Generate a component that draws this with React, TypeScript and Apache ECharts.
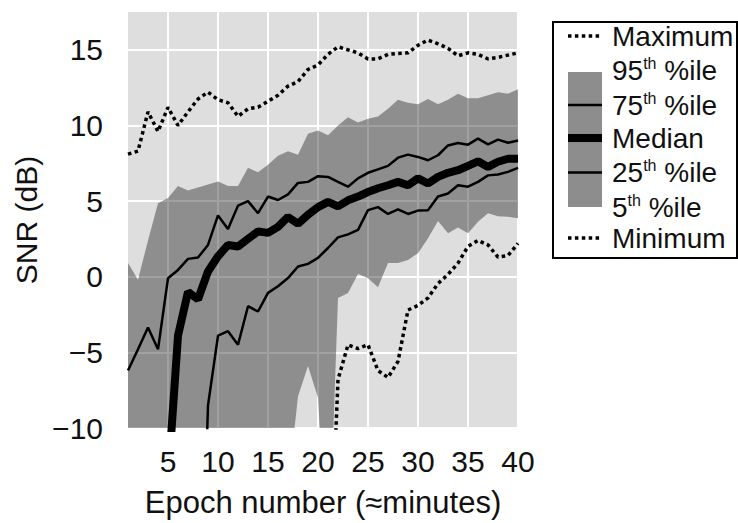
import React, { useEffect, useRef } from "react";
import * as echarts from "echarts";

const epochs = [1, 2, 3, 4, 5, 6, 7, 8, 9, 10, 11, 12, 13, 14, 15, 16, 17, 18, 19, 20, 21, 22, 23, 24, 25, 26, 27, 28, 29, 30, 31, 32, 33, 34, 35, 36, 37, 38, 39, 40];

const maxV = [8.1, 8.3, 10.9, 9.6, 11.2, 10.0, 10.9, 11.75, 12.2, 11.7, 11.5, 10.6, 11.1, 11.2, 11.6, 12.0, 12.6, 12.9, 13.7, 14.0, 14.7, 15.2, 15.0, 14.8, 14.4, 14.4, 14.7, 14.76, 14.8, 15.3, 15.65, 15.4, 15.1, 14.6, 14.8, 14.7, 14.4, 14.5, 14.65, 14.8];

const p95 = [0.9, -0.2, 2.4, 4.85, 5.2, 6.0, 5.7, 5.9, 6.1, 6.3, 6.0, 6.0, 7.2, 6.9, 7.4, 8.0, 8.3, 8.07, 9.45, 9.67, 9.35, 10.0, 10.55, 10.2, 10.45, 10.6, 11.1, 11.7, 11.5, 11.4, 11.75, 11.4, 11.7, 12.1, 11.8, 11.8, 12.0, 12.2, 12.1, 12.4];

const p75 = [-6.2, -4.8, -3.35, -4.8, -0.1, 0.45, 1.18, 1.27, 2.1, 4.05, 3.15, 4.7, 5.0, 4.2, 5.3, 5.07, 5.44, 6.2, 6.27, 6.65, 6.6, 6.27, 5.95, 6.5, 6.87, 7.1, 7.33, 7.87, 8.07, 7.92, 7.7, 8.03, 8.68, 8.84, 8.73, 9.13, 8.75, 9.06, 8.86, 9.0];

const median = [null, null, null, null, -13.5, -3.9, -1.0, -1.5, 0.35, 1.35, 2.1, 2.0, 2.5, 3.0, 2.9, 3.3, 3.95, 3.5, 4.1, 4.6, 4.95, 4.65, 5.05, 5.3, 5.6, 5.85, 6.05, 6.27, 6.05, 6.5, 6.16, 6.6, 6.87, 7.04, 7.33, 7.63, 7.26, 7.6, 7.8, 7.8];

const p25 = [null, null, null, null, null, null, null, -30, -8.5, -3.9, -3.6, -4.5, -1.95, -2.3, -1.07, -0.63, -0.09, 0.68, 0.85, 1.25, 1.9, 2.6, 2.8, 3.1, 4.4, 4.6, 4.15, 4.45, 4.15, 4.37, 4.4, 5.3, 5.5, 6.05, 5.95, 6.27, 6.7, 6.76, 6.93, 7.2];

const p5 = [null, null, null, null, null, null, null, null, null, null, null, null, null, null, null, null, -14, -7.9, -5.9, -8.0, -20, -1.4, -1.07, 0.18, -0.1, -0.7, 0.9, 0.9, 1.1, 1.56, 2.55, 3.68, 2.87, 3.25, 2.87, 3.64, 4.2, 4.0, 3.97, 3.86];

const minV = [null, null, null, null, null, null, null, null, null, null, null, null, null, null, null, null, null, null, null, null, -23, -6.8, -4.5, -4.75, -4.5, -6.2, -6.66, -5.6, -2.2, -1.9, -1.4, -0.45, 0.15, 0.9, 2.0, 2.4, 2.1, 1.3, 1.4, 2.2];

const xTicks = [5, 10, 15, 20, 25, 30, 35, 40];
const yTicks = [-10, -5, 0, 5, 10, 15];
const Y_MIN = -10;
const Y_MAX = 17.5;

const FONT = "'Liberation Sans', Arial, Helvetica, sans-serif";
const BAND_FILL = "rgba(30,30,30,0.42)";

const pairs = (arr: (number | null)[]) => epochs.map((e, i) => [e, arr[i]]);

export default function App() {
  const ref = useRef<HTMLDivElement>(null);
  useEffect(() => {
    if (!ref.current) return;
    const chart = echarts.init(ref.current, undefined, { renderer: "svg" });
    const lower = p5.map((v) => (v == null ? Y_MIN - 1 : v));
    const lineBase = { type: "line", showSymbol: false, symbol: "none", silent: true, z: 4, clip: true };
    const option: any = {
      animation: false,
      grid: { left: 128, right: 220, top: 12, bottom: 92, show: true, backgroundColor: "#dedede", borderWidth: 0 },
      xAxis: {
        type: "value",
        min: 1,
        max: 40,
        name: "Epoch number (≈minutes)",
        nameLocation: "middle",
        nameGap: 59,
        nameTextStyle: { fontSize: 31, color: "#111", fontFamily: FONT },
        axisLine: { show: false },
        axisTick: { show: false, customValues: xTicks },
        axisLabel: { customValues: xTicks, fontSize: 30, color: "#111", fontFamily: FONT, margin: 18 },
        splitLine: { show: true, lineStyle: { color: "#ffffff", width: 2 } },
      },
      yAxis: {
        type: "value",
        min: Y_MIN,
        max: Y_MAX,
        name: "SNR (dB)",
        nameLocation: "middle",
        nameGap: 82,
        nameTextStyle: { fontSize: 30, color: "#111", fontFamily: FONT },
        axisLine: { show: false },
        axisTick: { show: false, customValues: yTicks },
        axisLabel: {
          customValues: yTicks,
          fontSize: 30,
          color: "#111",
          fontFamily: FONT,
          margin: 25,
          formatter: (v: number) => (v < 0 ? "\u2212" + Math.abs(v) : String(v)),
        },
        splitLine: { show: true, lineStyle: { color: "#ffffff", width: 2 } },
      },
      series: [
        {
          type: "custom",
          name: "band",
          coordinateSystem: "cartesian2d",
          data: [[1, 0]],
          clip: true,
          silent: true,
          z: 2,
          renderItem: (_params: any, api: any) => {
            const top = epochs.map((e, i) => api.coord([e, p95[i]]));
            const bot = epochs.map((e, i) => api.coord([e, lower[i]])).reverse();
            return {
              type: "polygon",
              shape: { points: top.concat(bot) },
              style: { fill: BAND_FILL, stroke: "none" },
            };
          },
        },
        { ...lineBase, name: "Maximum", data: pairs(maxV), lineStyle: { color: "#000", width: 3.5, type: [3.5, 3.4] } },
        { ...lineBase, name: "Minimum", data: pairs(minV), lineStyle: { color: "#000", width: 3.5, type: [3.5, 3.4] } },
        { ...lineBase, name: "75th", data: pairs(p75), lineStyle: { color: "#000", width: 2.5 } },
        { ...lineBase, name: "25th", data: pairs(p25), lineStyle: { color: "#000", width: 2.5 } },
        { ...lineBase, name: "Median", data: pairs(median), lineStyle: { color: "#000", width: 8 } },
      ],
      graphic: [
        { type: "rect", shape: { x: 553, y: 22, width: 184, height: 236 }, style: { fill: "#fff", stroke: "#000", lineWidth: 2 } },
        { type: "line", shape: { x1: 568, y1: 36, x2: 602, y2: 36 }, style: { stroke: "#000", lineWidth: 3.5, lineDash: [3.5, 3.4] } },
        { type: "rect", shape: { x: 568, y: 72, width: 34, height: 135 }, style: { fill: "#8d8d8d" } },
        { type: "line", shape: { x1: 568, y1: 105, x2: 602, y2: 105 }, style: { stroke: "#000", lineWidth: 2.5 } },
        { type: "line", shape: { x1: 568, y1: 138, x2: 602, y2: 138 }, style: { stroke: "#000", lineWidth: 8 } },
        { type: "line", shape: { x1: 568, y1: 172.5, x2: 602, y2: 172.5 }, style: { stroke: "#000", lineWidth: 2.5 } },
        { type: "line", shape: { x1: 568, y1: 238, x2: 602, y2: 238 }, style: { stroke: "#000", lineWidth: 3.5, lineDash: [3.5, 3.4] } },
        ...[
          { t: "{n|Maximum}", y: 36 },
          { t: "{n|95}{s|th}{n| %ile}", y: 70 },
          { t: "{n|75}{s|th}{n| %ile}", y: 105 },
          { t: "{n|Median}", y: 138 },
          { t: "{n|25}{s|th}{n| %ile}", y: 172.5 },
          { t: "{n|5}{s|th}{n| %ile}", y: 207 },
          { t: "{n|Minimum}", y: 238 },
        ].map((d) => ({
          type: "text",
          x: 612,
          y: d.y,
          style: {
            text: d.t,
            verticalAlign: "middle",
            align: "left",
            fill: "#111",
            rich: {
              n: { fontSize: 28, fontFamily: FONT, fill: "#111", lineHeight: 30 },
              s: { fontSize: 16, fontFamily: FONT, fill: "#111", verticalAlign: "top", lineHeight: 30 },
            },
          },
        })),
      ],
    };
    chart.setOption(option);
    return () => chart.dispose();
  }, []);
  return <div ref={ref} style={{ width: 738, height: 523, position: "absolute", left: 0, top: 0 }} />;
}
